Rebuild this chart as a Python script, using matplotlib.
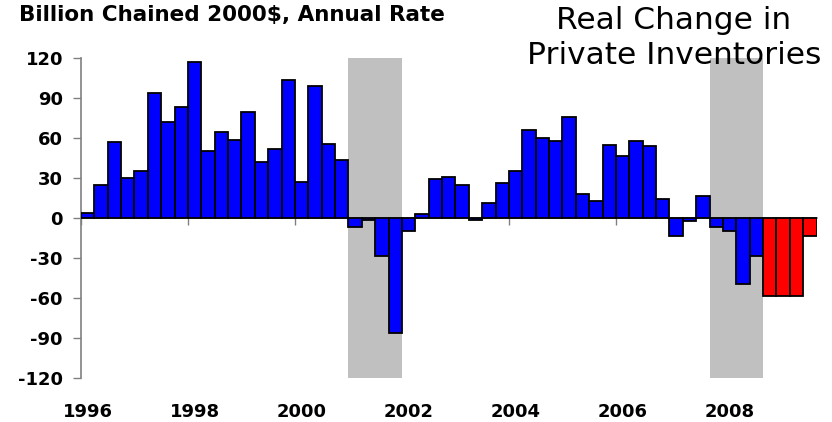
import matplotlib
matplotlib.use("Agg")
import matplotlib.pyplot as plt
import numpy as np
import pandas as pd

# ---- data ----
quarters = [str(p) for p in pd.period_range("1996Q1", "2009Q3", freq="Q")]
values = [4, 24.4, 57.3, 30.1,
          35.1, 94.1, 72.2, 83.1,
          117.3, 50.5, 64.2, 58.8,
          79.2, 42.3, 51.8, 103.8,
          27.1, 99.3, 55.8, 43.8,
          -6.5, -1.5, -28.8, -86.3,
          -9.5, 3.3, 29.0, 30.5,
          25.0, -1.5, 11.3, 26.3,
          35.5, 66.0, 60.3, 57.5,
          75.5, 18.0, 12.5, 54.8,
          46.8, 57.8, 53.8, 14.0,
          -13.8, -2.5, 16.8, -6.5,
          -9.5, -49.3, -28.8, -58.8,
          -58.8, -58.8, -13.8]
forecast_start = "2008Q4"
recessions = [("2001Q1", "2001Q4"), ("2007Q4", "2008Q3")]
year_labels = ["1996", "1998", "2000", "2002", "2004", "2006", "2008"]
y_ticks = [-120, -90, -60, -30, 0, 30, 60, 90, 120]

plt.rcParams['font.family'] = ['DejaVu Sans']

fig = plt.figure(figsize=(8.32, 4.22), dpi=100)
ax = fig.add_axes([81/832, 1 - 378/422, (816.5 - 81)/832, (378 - 58)/422])

x = np.arange(len(quarters))
fc_idx = quarters.index(forecast_start)
colors = ['#0000FF' if i < fc_idx else '#FF0000' for i in x]
ax.bar(x, values, width=1.0, color=colors, edgecolor='black', linewidth=1.3, zorder=3)

for s, e in recessions:
    ax.axvspan(quarters.index(s) - 0.5, quarters.index(e) + 0.5, color='#C0C0C0', zorder=1, lw=0)

ax.set_xlim(-0.5, len(quarters) - 0.5)
ax.set_ylim(-120, 120)

for side in ['top', 'right']:
    ax.spines[side].set_visible(False)
ax.spines['left'].set_color('#808080')
ax.spines['left'].set_linewidth(1.2)
ax.spines['bottom'].set_position(('data', 0))
ax.spines['bottom'].set_color('#808080')
ax.spines['bottom'].set_linewidth(1.2)
ax.spines['bottom'].set_zorder(2)

ax.set_yticks(y_ticks)
ax.set_yticklabels([str(v) for v in y_ticks])
ax.tick_params(axis='y', direction='out', length=5.5, width=1, color='#808080',
               pad=7.5, labelsize=13)
for lab in ax.get_yticklabels():
    lab.set_fontweight('bold')

label_pos = [quarters.index(f"{y}Q1") for y in year_labels]
ax.set_xticks(label_pos)
ax.set_xticklabels(year_labels)
ax.tick_params(axis='x', which='major', length=0, pad=133, labelsize=13)
for lab in ax.get_xticklabels():
    lab.set_fontweight('bold')
ax.set_xticks([p - 0.5 for p in label_pos], minor=True)
ax.tick_params(axis='x', which='minor', direction='out', length=5, width=1, color='#808080')

fig.text(19/832, 1 - 20.7/422, "Billion Chained 2000$, Annual Rate",
         fontsize=15.5, fontweight='bold', va='baseline', ha='left')
fig.text(674/832, 1 - 29.3/422, "Real Change in",
         fontsize=22.5, va='baseline', ha='center')
fig.text(674/832, 1 - 64/422, "Private Inventories",
         fontsize=22.5, va='baseline', ha='center')

fig.savefig("out.png", dpi=100)
